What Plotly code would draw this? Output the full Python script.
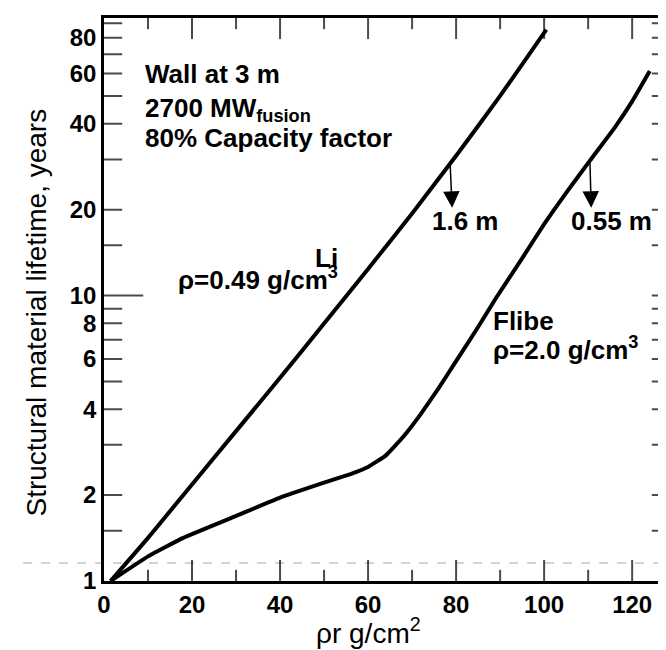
import math
import plotly.graph_objects as go

# ---- data ----
li_x = [1.5, 10, 20, 30, 40, 50, 60, 70, 80, 90, 100.5]
li_y = [1.0, 1.416, 2.18, 3.35, 5.15, 7.98, 12.4, 19.4, 30.9, 50.1, 85.5]

flibe_x = [1.5, 10, 18, 30, 40, 50, 56, 60, 64, 68, 72, 76, 80, 85, 89, 95, 100, 105, 110.4, 116, 120, 124]
flibe_y = [1.0, 1.22, 1.416, 1.69, 1.96, 2.21, 2.37, 2.51, 2.75, 3.20, 3.85, 4.73, 5.89, 7.76, 9.77,
           13.5, 17.8, 22.9, 29.7, 38.7, 47.9, 61.2]

x_labels = [0, 20, 40, 60, 80, 100, 120]
x_tick_pos = [10, 20, 30, 40, 50, 60, 70, 80, 90, 100, 110, 120]
x_tick_major = [False, True, False, True, False, True, False, True, False, True, False, True]
y_labels = [1, 2, 4, 6, 8, 10, 20, 40, 60, 80]
y_tick_pos = [1.5, 2, 3, 4, 5, 6, 7, 8, 9, 10, 15, 20, 30, 40, 50, 60, 70, 80, 90]

arrow_x_from = [78.6, 110.4]
arrow_x_to = [79.1, 110.7]
arrow_y_from = [29.9, 29.65]
arrow_y_to = [20.3, 20.3]
arrow_labels = ["1.6 m", "0.55 m"]
arrow_label_x = [82.05, 115.3]
arrow_label_y = [18.2, 18.2]

info_lines = ["Wall at 3 m", "2700 MW<sub>fusion</sub>", "80% Capacity factor"]
info_y = [59.6, 44.95, 35.7]
info_x = 8.85

FONT = "Liberation Sans, Arial, Helvetica, sans-serif"
X_RANGE = [0, 128.6]
Y_RANGE = [0, 1.9725]
Y_TOP = 10 ** Y_RANGE[1]

fig = go.Figure()
fig.add_trace(go.Scatter(x=li_x, y=li_y, mode="lines",
                         line=dict(color="black", width=4, shape="spline", smoothing=0.6),
                         hoverinfo="skip", showlegend=False))
fig.add_trace(go.Scatter(x=flibe_x, y=flibe_y, mode="lines",
                         line=dict(color="black", width=4, shape="spline", smoothing=0.3),
                         hoverinfo="skip", showlegend=False))

# inward tick marks on all four sides, drawn as line markers clipped by the plot area
def tick_marks(xs, ys, symbol, sizes):
    fig.add_trace(go.Scatter(x=xs, y=ys, mode="markers", hoverinfo="skip", showlegend=False,
                             cliponaxis=True,
                             marker=dict(symbol=symbol, size=sizes, color="black",
                                         line=dict(width=2, color="black"))))

x_sizes = [30 if m else 16 for m in x_tick_major]
tick_marks(x_tick_pos, [1] * len(x_tick_pos), "line-ns", x_sizes)
tick_marks(x_tick_pos, [Y_TOP] * len(x_tick_pos), "line-ns", x_sizes)
y_sizes = [56 if v == 10 else 26 for v in y_tick_pos]
tick_marks([X_RANGE[0]] * len(y_tick_pos), y_tick_pos, "line-ew", y_sizes)
tick_marks([X_RANGE[1]] * len(y_tick_pos), y_tick_pos, "line-ew", [26] * len(y_tick_pos))

ann = []
bold = dict(family=FONT, size=26, color="black", weight="bold")
for t, yv in zip(info_lines, info_y):
    ann.append(dict(x=info_x, y=math.log10(yv), xref="x", yref="y", text=t,
                    showarrow=False, xanchor="left", yanchor="middle", font=bold))
for xf, xt, yf, yt in zip(arrow_x_from, arrow_x_to, arrow_y_from, arrow_y_to):
    ann.append(dict(x=xt, y=math.log10(yt), ax=xf, ay=math.log10(yf),
                    xref="x", yref="y", axref="x", ayref="y", text="",
                    showarrow=True, arrowhead=2, arrowsize=2.2, arrowwidth=1.5,
                    arrowcolor="black", standoff=0, startstandoff=0))
for t, xv, yv in zip(arrow_labels, arrow_label_x, arrow_label_y):
    ann.append(dict(x=xv, y=math.log10(yv), xref="x", yref="y", text=t,
                    showarrow=False, xanchor="center", yanchor="middle", font=bold))
ann.append(dict(x=53.6, y=math.log10(13.5), xref="x", yref="y", text="Li",
                showarrow=False, xanchor="right", yanchor="middle", font=bold))
ann.append(dict(x=53.6, y=math.log10(11.44), xref="x", yref="y", text="ρ=0.49 g/cm<sup>3</sup>",
                showarrow=False, xanchor="right", yanchor="middle", font=bold))
ann.append(dict(x=87.95, y=math.log10(8.12), xref="x", yref="y", text="Flibe",
                showarrow=False, xanchor="left", yanchor="middle", font=bold))
ann.append(dict(x=87.95, y=math.log10(6.5), xref="x", yref="y", text="ρ=2.0 g/cm<sup>3</sup>",
                showarrow=False, xanchor="left", yanchor="middle", font=bold))
# axis titles
ann.append(dict(x=-0.121, y=0.476, xref="paper", yref="paper", text="Structural material lifetime, years",
                textangle=-90, showarrow=False, xanchor="center", yanchor="middle",
                font=dict(family=FONT, size=28, color="black")))
ann.append(dict(x=60, y=-0.0888, xref="x", yref="paper", text="ρr g/cm<sup>2</sup>",
                showarrow=False, xanchor="center", yanchor="middle",
                font=dict(family=FONT, size=28, color="black")))
fig.update_layout(annotations=ann)

# faint scan line of the original
fig.add_shape(type="line", xref="paper", yref="y", x0=-0.143, x1=1.007, y0=1.156, y1=1.156,
              line=dict(color="#a8a8a8", width=1, dash="dash"), layer="below")

tickfont = dict(family=FONT, size=24, color="black", weight="bold")
axis_common = dict(showline=True, linecolor="black", linewidth=2.5, mirror=True,
                   ticks="", showgrid=False, zeroline=False, automargin=False,
                   tickfont=tickfont, ticklabelstandoff=0)

fig.update_layout(
    xaxis=dict(range=X_RANGE, tickmode="array", tickvals=x_labels, **axis_common),
    yaxis=dict(type="log", range=Y_RANGE, tickmode="array", tickvals=y_labels,
               ticktext=[str(v) for v in y_labels], **axis_common),
)

fig.update_layout(width=666, height=650, margin=dict(l=96, r=4, t=10, b=77),
                  plot_bgcolor="white", paper_bgcolor="white", showlegend=False)

fig.write_html("out.html")
